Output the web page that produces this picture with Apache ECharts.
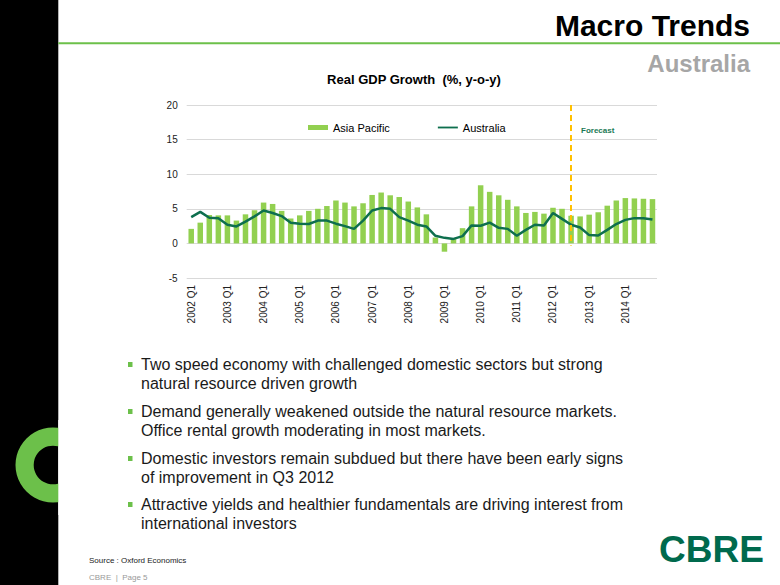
<!DOCTYPE html>
<html>
<head>
<meta charset="utf-8">
<script src="https://cdn.jsdelivr.net/npm/echarts@6/dist/echarts.min.js"></script>
<style>
html,body{margin:0;padding:0;background:#fff;}
#c{width:780px;height:585px;}
</style>
</head>
<body>
<div id="c"></div>
<script>
var years = [2002,2003,2004,2005,2006,2007,2008,2009,2010,2011,2012,2013,2014];
var quarters = ['Q1','Q2','Q3','Q4'];
var categories = [];
years.forEach(function(y){ quarters.forEach(function(q){ categories.push(y + ' ' + q); }); });

var asiaPacific = [2.1,3.0,4.1,4.05, 4.05,3.3,4.2,4.8, 5.9,5.7,4.7,3.6, 4.05,4.7,5.0,5.4,
  6.2,5.9,5.35,5.8, 7.0,7.35,6.95,6.7, 6.05,5.2,4.2,0.85, -1.2,0.65,2.2,5.35,
  8.4,7.45,6.95,6.3, 5.35,4.4,4.55,4.3, 5.15,5.0,4.0,3.9, 4.15,4.5,5.45,6.2,
  6.55,6.5,6.45,6.4];
var australia = [3.8,4.55,3.7,3.65, 2.7,2.45,3.15,3.9, 4.75,4.4,3.95,3.0, 2.85,2.8,3.3,3.3,
  2.85,2.5,2.1,3.3, 4.75,5.1,5.0,3.8, 3.3,2.7,2.45,1.1, 0.8,0.65,1.05,2.6,
  2.55,3.0,2.25,2.1, 1.1,1.95,2.7,2.6, 4.4,3.55,2.7,2.3, 1.2,1.15,1.95,2.8,
  3.4,3.65,3.65,3.45];
var yTicks = {min: -5, max: 20, interval: 5};
var forecastStart = '2012 Q3';

var bullets = [
  ['Two speed economy with challenged domestic sectors but strong', 'natural resource driven growth'],
  ['Demand generally weakened outside the natural resource markets.', 'Office rental growth moderating in most markets.'],
  ['Domestic investors remain subdued but there have been early signs', 'of improvement in Q3 2012'],
  ['Attractive yields and healthier fundamentals are driving interest from', 'international investors']
];
var bulletTops = [356, 403, 450, 496];

var FONT = 'Liberation Sans, Arial, sans-serif';
var graphics = [
  {type:'rect', shape:{x:0,y:0,width:58.3,height:585}, style:{fill:'#000'}, z:1},
  {type:'ring', shape:{cx:53,cy:465,r:37.5,r0:19.3}, style:{fill:'#6CC04A'}, z:2},
  {type:'rect', shape:{x:58.3,y:420,width:40,height:95}, style:{fill:'#fff'}, z:3},
  {type:'rect', shape:{x:58.3,y:42.3,width:722,height:2}, style:{fill:'#6CC04A'}, z:2},
  {type:'text', right:30, top:10, style:{text:'Macro Trends', font:'bold 30px '+FONT, fill:'#000'}, z:5},
  {type:'text', right:30, top:51, style:{text:'Australia', font:'bold 24px '+FONT, fill:'#A6A6A6'}, z:5},
  {type:'text', left:581, top:126, style:{text:'Forecast', font:'bold 8px '+FONT, fill:'#1B7A55'}, z:5},
  {type:'text', left:89, top:556, style:{text:'Source : Oxford Economics', font:'8px '+FONT, fill:'#222'}, z:5},
  {type:'text', left:89, top:573, style:{text:'CBRE  |  Page 5', font:'8px '+FONT, fill:'#999'}, z:5},
  {type:'text', left:659, top:531, style:{text:'CBRE', font:'bold 37px '+FONT, fill:'#006A4D'}, z:5}
];
bullets.forEach(function(b, i){
  graphics.push({type:'rect', shape:{x:128, y:bulletTops[i]+6, width:4.5, height:5}, style:{fill:'#6CC04A'}, z:5});
  b.forEach(function(line, j){
    graphics.push({type:'text', left:141, top:bulletTops[i] + j*19.5,
      style:{text:line, font:'16px '+FONT, fill:'#1a1a1a'}, z:5});
  });
});

var chart = echarts.init(document.getElementById('c'), null, {renderer:'svg'});
chart.setOption({
  animation: false,
  backgroundColor: '#fff',
  title: {
    text: 'Real GDP Growth  (%, y-o-y)',
    left: 409, top: 68, textAlign: 'center',
    textStyle: {fontFamily: FONT, fontSize: 13, fontWeight: 'bold', color: '#000'}
  },
  legend: {
    left: 303, top: 117, itemWidth: 20, itemHeight: 5, itemGap: 48,
    textStyle: {fontFamily: FONT, fontSize: 11, color: '#000'},
    data: [
      {name:'Asia Pacific', icon:'rect'},
      {name:'Australia', icon:'path://M0,0 L44,0 L44,4 L0,4 Z'}
    ]
  },
  grid: {left: 186.7, right: 123, top: 105, bottom: 307, containLabel: false},
  xAxis: {
    type: 'category', data: categories, boundaryGap: true,
    axisLine: {show: false}, axisTick: {show: false},
    axisLabel: {interval: 3, rotate: 90, margin: 7, fontFamily: FONT, fontSize: 10, color: '#222'}
  },
  yAxis: {
    type: 'value', min: yTicks.min, max: yTicks.max, interval: yTicks.interval,
    axisLine: {show: false}, axisTick: {show: false},
    axisLabel: {margin: 9, fontFamily: FONT, fontSize: 10, color: '#222'},
    splitLine: {lineStyle: {color: '#D9D9D9', width: 1}}
  },
  series: [
    {
      name: 'Asia Pacific', type: 'bar', data: asiaPacific,
      barWidth: 5.5, itemStyle: {color: '#92D050'},
      markLine: {
        silent: true, symbol: 'none', label: {show: false},
        lineStyle: {color: '#FFC000', type: [6, 4], width: 2},
        data: [[{coord: [forecastStart, yTicks.max]}, {coord: [forecastStart, -0.3]}]]
      }
    },
    {
      name: 'Australia', type: 'line', data: australia, symbol: 'none',
      lineStyle: {color: '#0E6F4E', width: 2.5}, itemStyle: {color: '#0E6F4E'}, z: 3
    }
  ],
  graphic: graphics
});
</script>
</body>
</html>
